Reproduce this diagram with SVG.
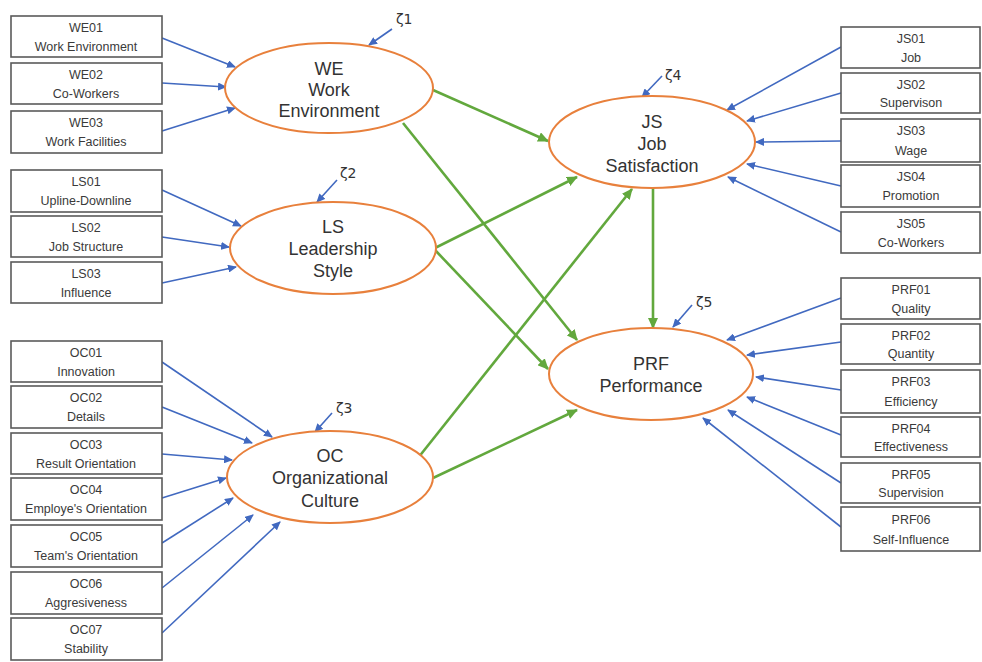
<svg xmlns="http://www.w3.org/2000/svg" width="982" height="662" viewBox="0 0 982 662">
<defs>
<marker id="ab" markerWidth="9" markerHeight="8" refX="8" refY="4" orient="auto" markerUnits="userSpaceOnUse"><path d="M0,0 L9,4 L0,8 Z" fill="#4169c0"/></marker>
<marker id="ag" markerWidth="11" markerHeight="10" refX="10" refY="5" orient="auto" markerUnits="userSpaceOnUse"><path d="M0,0 L11,5 L0,10 Z" fill="#62a83d"/></marker>
</defs>
<style>
.box rect{fill:#fff;stroke:#5a5a5a;stroke-width:1.6}
.box text{font-family:"Liberation Sans",Arial,sans-serif;font-size:12.5px;fill:#3a3a3a;text-anchor:middle}
.lat ellipse{fill:#fff;stroke:#e8803c;stroke-width:2}
.lat text{font-family:"Liberation Sans",Arial,sans-serif;font-size:18px;fill:#333;text-anchor:middle}
.z{font-family:"DejaVu Sans",sans-serif;font-size:14px;fill:#333}
.b{stroke:#4169c0;stroke-width:1.6;fill:none;marker-end:url(#ab)}
.g{stroke:#62a83d;stroke-width:2.6;fill:none;marker-end:url(#ag)}
</style>
<rect width="982" height="662" fill="#fff"/>

<g id="connectors">
<line class="b" x1="162" y1="38" x2="235" y2="67"/>
<line class="b" x1="162" y1="83" x2="226" y2="87"/>
<line class="b" x1="162" y1="131" x2="235" y2="108"/>
<line class="b" x1="162" y1="190" x2="241" y2="226"/>
<line class="b" x1="162" y1="237" x2="229" y2="247"/>
<line class="b" x1="162" y1="283" x2="236" y2="267"/>
<line class="b" x1="162" y1="362" x2="272" y2="437"/>
<line class="b" x1="162" y1="407" x2="252" y2="443"/>
<line class="b" x1="162" y1="454" x2="232" y2="460"/>
<line class="b" x1="162" y1="498" x2="226" y2="478"/>
<line class="b" x1="162" y1="543" x2="233" y2="498"/>
<line class="b" x1="162" y1="588" x2="253" y2="515"/>
<line class="b" x1="162" y1="633" x2="280" y2="522"/>
<line class="b" x1="841" y1="47" x2="727" y2="110"/>
<line class="b" x1="841" y1="93" x2="747" y2="121"/>
<line class="b" x1="841" y1="141" x2="756" y2="142"/>
<line class="b" x1="841" y1="186" x2="747" y2="164"/>
<line class="b" x1="841" y1="232" x2="728" y2="177"/>
<line class="b" x1="841" y1="298" x2="727" y2="340"/>
<line class="b" x1="841" y1="342" x2="747" y2="355"/>
<line class="b" x1="841" y1="390" x2="756" y2="377"/>
<line class="b" x1="841" y1="435" x2="747" y2="397"/>
<line class="b" x1="841" y1="483" x2="728" y2="410"/>
<line class="b" x1="841" y1="527" x2="703" y2="418"/>
<line class="b" x1="392" y1="29" x2="369" y2="45"/>
<line class="b" x1="337" y1="180" x2="317" y2="202"/>
<line class="b" x1="332" y1="413" x2="315" y2="432"/>
<line class="b" x1="662" y1="76" x2="642" y2="97"/>
<line class="b" x1="692" y1="305" x2="673" y2="327"/>
<line class="g" x1="433" y1="90" x2="548" y2="141"/>
<line class="g" x1="403" y1="123" x2="577" y2="340"/>
<line class="g" x1="435" y1="248" x2="577" y2="177"/>
<line class="g" x1="435" y1="250" x2="548" y2="369"/>
<line class="g" x1="418" y1="458" x2="632" y2="189"/>
<line class="g" x1="433" y1="478" x2="577" y2="410"/>
<line class="g" x1="653" y1="188" x2="653" y2="328"/>
</g>

<g id="WE01" class="box"><rect x="11" y="16" width="151" height="41"/><text x="86" y="32">WE01</text><text x="86" y="51">Work Environment</text></g>
<g id="WE02" class="box"><rect x="11" y="63" width="151" height="41"/><text x="86" y="79">WE02</text><text x="86" y="98">Co-Workers</text></g>
<g id="WE03" class="box"><rect x="11" y="111" width="151" height="42"/><text x="86" y="127">WE03</text><text x="86" y="146">Work Facilities</text></g>
<g id="LS01" class="box"><rect x="11" y="170" width="151" height="42"/><text x="86" y="186">LS01</text><text x="86" y="205">Upline-Downline</text></g>
<g id="LS02" class="box"><rect x="11" y="216" width="151" height="41"/><text x="86" y="232">LS02</text><text x="86" y="251">Job Structure</text></g>
<g id="LS03" class="box"><rect x="11" y="262" width="151" height="41"/><text x="86" y="278">LS03</text><text x="86" y="297">Influence</text></g>
<g id="OC01" class="box"><rect x="11" y="341" width="151" height="41"/><text x="86" y="357">OC01</text><text x="86" y="376">Innovation</text></g>
<g id="OC02" class="box"><rect x="11" y="386" width="151" height="42"/><text x="86" y="402">OC02</text><text x="86" y="421">Details</text></g>
<g id="OC03" class="box"><rect x="11" y="433" width="151" height="41"/><text x="86" y="449">OC03</text><text x="86" y="468">Result Orientation</text></g>
<g id="OC04" class="box"><rect x="11" y="478" width="151" height="42"/><text x="86" y="494">OC04</text><text x="86" y="513">Employe's Orientation</text></g>
<g id="OC05" class="box"><rect x="11" y="525" width="151" height="42"/><text x="86" y="541">OC05</text><text x="86" y="560">Team's Orientation</text></g>
<g id="OC06" class="box"><rect x="11" y="572" width="151" height="42"/><text x="86" y="588">OC06</text><text x="86" y="607">Aggresiveness</text></g>
<g id="OC07" class="box"><rect x="11" y="618" width="151" height="42"/><text x="86" y="634">OC07</text><text x="86" y="653">Stability</text></g>

<g id="JS01" class="box"><rect x="841" y="27" width="139" height="41"/><text x="911" y="43">JS01</text><text x="911" y="62">Job</text></g>
<g id="JS02" class="box"><rect x="841" y="73" width="139" height="40"/><text x="911" y="89">JS02</text><text x="911" y="107">Supervison</text></g>
<g id="JS03" class="box"><rect x="841" y="119" width="139" height="43"/><text x="911" y="135">JS03</text><text x="911" y="155">Wage</text></g>
<g id="JS04" class="box"><rect x="841" y="165" width="139" height="42"/><text x="911" y="181">JS04</text><text x="911" y="200">Promotion</text></g>
<g id="JS05" class="box"><rect x="841" y="212" width="139" height="41"/><text x="911" y="228">JS05</text><text x="911" y="247">Co-Workers</text></g>
<g id="PRF01" class="box"><rect x="841" y="278" width="139" height="41"/><text x="911" y="294">PRF01</text><text x="911" y="313">Quality</text></g>
<g id="PRF02" class="box"><rect x="841" y="324" width="139" height="40"/><text x="911" y="340">PRF02</text><text x="911" y="358">Quantity</text></g>
<g id="PRF03" class="box"><rect x="841" y="370" width="139" height="43"/><text x="911" y="386">PRF03</text><text x="911" y="406">Efficiency</text></g>
<g id="PRF04" class="box"><rect x="841" y="417" width="139" height="40"/><text x="911" y="433">PRF04</text><text x="911" y="451">Effectiveness</text></g>
<g id="PRF05" class="box"><rect x="841" y="463" width="139" height="40"/><text x="911" y="479">PRF05</text><text x="911" y="497">Supervision</text></g>
<g id="PRF06" class="box"><rect x="841" y="507" width="139" height="44"/><text x="911" y="524">PRF06</text><text x="911" y="544">Self-Influence</text></g>

<g id="WE" class="lat"><ellipse cx="329" cy="88" rx="104" ry="45"/><text x="329" y="75">WE</text><text x="329" y="96">Work</text><text x="329" y="117">Environment</text></g>
<g id="LS" class="lat"><ellipse cx="333" cy="248" rx="103" ry="46"/><text x="333" y="233">LS</text><text x="333" y="255">Leadership</text><text x="333" y="277">Style</text></g>
<g id="OC" class="lat"><ellipse cx="330" cy="477" rx="103" ry="46"/><text x="330" y="462">OC</text><text x="330" y="484">Organizational</text><text x="330" y="507">Culture</text></g>
<g id="JS" class="lat"><ellipse cx="652" cy="142" rx="103" ry="46"/><text x="652" y="128">JS</text><text x="652" y="150">Job</text><text x="652" y="172">Satisfaction</text></g>
<g id="PRF" class="lat"><ellipse cx="651" cy="374" rx="102" ry="46"/><text x="651" y="370">PRF</text><text x="651" y="392">Performance</text></g>

<g id="zeta">
<text class="z" x="396" y="24">ζ1</text>
<text class="z" x="340" y="178">ζ2</text>
<text class="z" x="336" y="413">ζ3</text>
<text class="z" x="665" y="80">ζ4</text>
<text class="z" x="696" y="307">ζ5</text>
</g>
</svg>
